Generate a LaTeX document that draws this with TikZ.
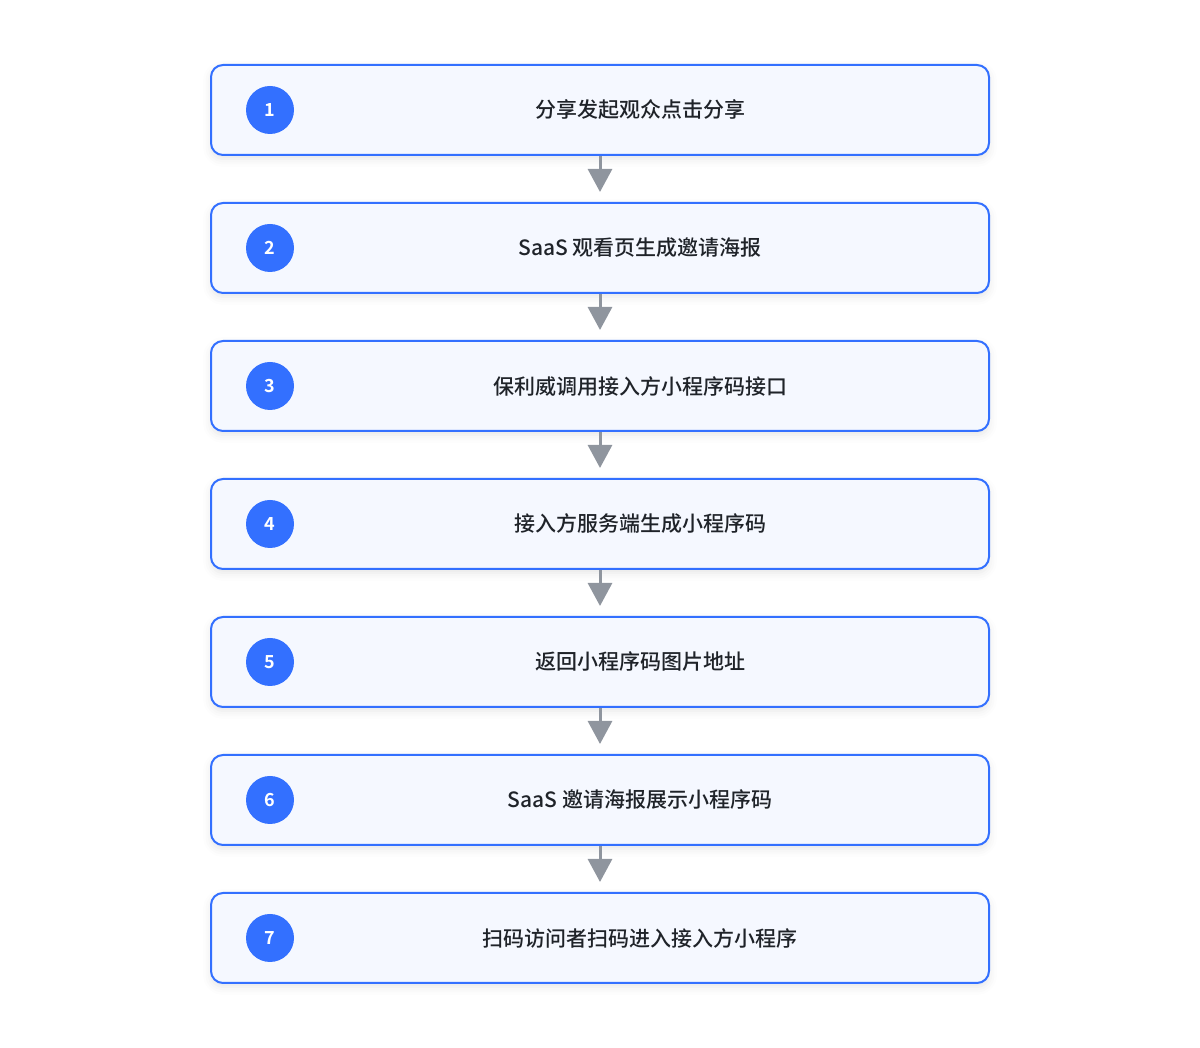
\documentclass[tikz,border=0pt]{standalone}
\usepackage{fontspec}
\setmainfont{Noto Sans CJK SC}[UprightFont=* Medium, BoldFont=* Bold]
\usepackage{tikz}
\usetikzlibrary{arrows.meta, positioning, shadows.blur}

\definecolor{stepblue}{HTML}{3370FF}
\definecolor{stepfill}{HTML}{F5F8FF}
\definecolor{arrowgray}{HTML}{8F959E}
\definecolor{textdark}{HTML}{1F2329}

\begin{document}
\begin{tikzpicture}[
    x=1pt, y=1pt,
    stepbox/.style={draw=stepblue, line width=2pt, fill=stepfill, rounded corners=12pt,
        minimum width=778pt, minimum height=90pt, inner sep=0pt,
        blur shadow={shadow xshift=0pt, shadow yshift=-4pt, shadow blur radius=8pt, shadow opacity=10}},
    numdot/.style={circle, fill=stepblue, minimum size=48pt, inner sep=0pt,
        text=white, font=\fontsize{18}{18}\selectfont\bfseries},
    steptext/.style={text=textdark, font=\fontsize{21}{25}\selectfont},
    flow/.style={arrowgray, line width=3pt, -{Triangle[width=24pt, length=23pt]}, shorten >=10pt},
    node distance=46pt
]
    \useasboundingbox (0,0) rectangle (1200,1048);

    % Step boxes - stacked top to bottom
    \node[stepbox] (share) at (600,938) {};
    \node[stepbox, below=of share] (poster) {};
    \node[stepbox, below=of poster] (callapi) {};
    \node[stepbox, below=of callapi] (gencode) {};
    \node[stepbox, below=of gencode] (returl) {};
    \node[stepbox, below=of returl] (showcode) {};
    \node[stepbox, below=of showcode] (scan) {};

    % Number dots - anchored to the left edge of each box
    \node[numdot, right=60pt of share.west, anchor=center] (n1) {1};
    \node[numdot, right=60pt of poster.west, anchor=center] (n2) {2};
    \node[numdot, right=60pt of callapi.west, anchor=center] (n3) {3};
    \node[numdot, right=60pt of gencode.west, anchor=center] (n4) {4};
    \node[numdot, right=60pt of returl.west, anchor=center] (n5) {5};
    \node[numdot, right=60pt of showcode.west, anchor=center] (n6) {6};
    \node[numdot, right=60pt of scan.west, anchor=center] (n7) {7};

    % Step texts
    \node[steptext, right=370pt of n1.center, anchor=center] (t1) {分享发起观众点击分享};
    \node[steptext, right=370pt of n2.center, anchor=center] (t2) {SaaS 观看页生成邀请海报};
    \node[steptext, right=370pt of n3.center, anchor=center] (t3) {保利威调用接入方小程序码接口};
    \node[steptext, right=370pt of n4.center, anchor=center] (t4) {接入方服务端生成小程序码};
    \node[steptext, right=370pt of n5.center, anchor=center] (t5) {返回小程序码图片地址};
    \node[steptext, right=370pt of n6.center, anchor=center] (t6) {SaaS 邀请海报展示小程序码};
    \node[steptext, right=370pt of n7.center, anchor=center] (t7) {扫码访问者扫码进入接入方小程序};

    % Arrows between steps
    \draw[flow] (share) -- (poster);
    \draw[flow] (poster) -- (callapi);
    \draw[flow] (callapi) -- (gencode);
    \draw[flow] (gencode) -- (returl);
    \draw[flow] (returl) -- (showcode);
    \draw[flow] (showcode) -- (scan);
\end{tikzpicture}
\end{document}
